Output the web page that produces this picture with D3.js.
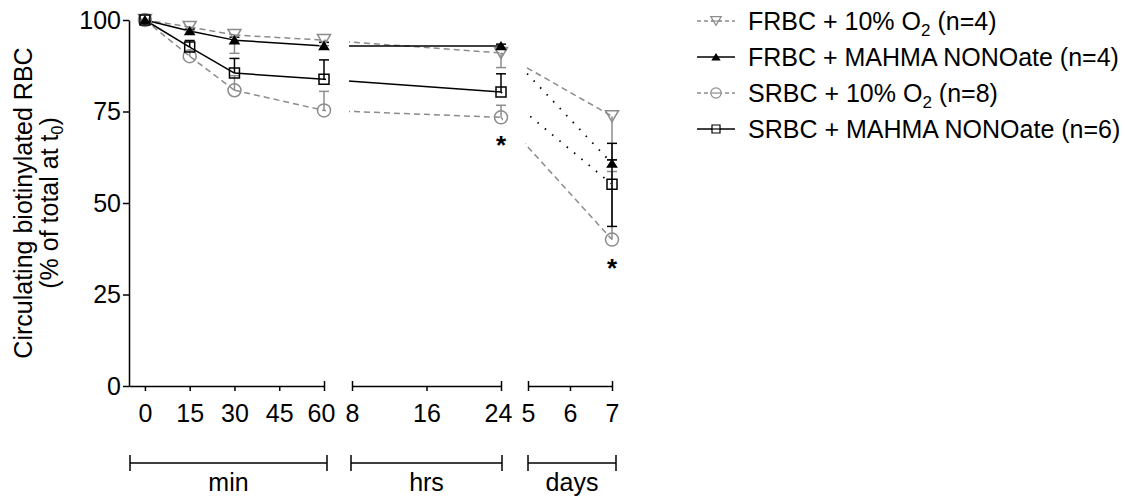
<!DOCTYPE html>
<html>
<head>
<meta charset="utf-8">
<script src="https://cdn.jsdelivr.net/npm/d3@7"></script>
<style>
  body { margin: 0; background: #fff; }
  svg { font-family: 'Liberation Sans', Arial, sans-serif; }
</style>
</head>
<body>
<svg id="chart" width="1125" height="500"></svg>
<script>
// axis ticks per broken segment
const minTicks = [0, 15, 30, 45, 60]
const hrsTicks = [8, 16, 24]
const dayTicks = [5, 6, 7]
const yTicks = [0, 25, 50, 75, 100]

// sampling times (unit + value)
const sampleUnits = ['min', 'min', 'min', 'min', 'hrs', 'days']
const sampleTimes = [0, 15, 30, 60, 24, 7]

// % of total at t0
const frbcO2 = [100, 98.1, 95.9, 94.5, 91.0, 73.7]
const frbcNO = [100, 97.0, 94.5, 92.9, 92.9, 60.8]
const srbcO2 = [100, 90.1, 80.8, 75.3, 73.4, 40.0]
const srbcNO = [100, 92.6, 85.5, 83.8, 80.3, 55.1]

// SEM, drawn one-sided like the original
const frbcO2ErrDown = [0, 1, 5, 1.5, 4, 12]
const frbcNOErrUp = [0, 0.5, 0.8, 1, 0.5, 1]
const srbcO2ErrUp = [0, 1.5, 4, 5.2, 3.3, 18.6]
const srbcNOErrUp = [0, 1.8, 4, 5.3, 5, 11.2]
const srbcNOErrDown = [0, 0, 0, 0, 0, 11.5]

const starAt = [4, 5]

const GRAY = '#8c8c8c'
const FONT = 25

const svg = d3.select('#chart')

const y = d3.scaleLinear().domain([0, 100]).range([386, 20])
const xMin = d3.scaleLinear().domain([-16 / 3, 60]).range([129, 324])
const xHrs = d3.scaleLinear().domain([8, 24]).range([352, 501])
const xDays = d3.scaleLinear().domain([5, 7]).range([528, 612])
const xByUnit = { min: xMin, hrs: xHrs, days: xDays }
const xAt = (i) => xByUnit[sampleUnits[i]](sampleTimes[i])

const triDown = (s) => `M${-s},${-s * 0.85}L${s},${-s * 0.85}L0,${s * 0.85}Z`
const triUp = (s) => `M${-s},${s * 0.8}L${s},${s * 0.8}L0,${-s * 0.8}Z`
const circle = (r) => d3.arc()({ innerRadius: 0, outerRadius: r, startAngle: 0, endAngle: 2 * Math.PI })
const square = (s) => `M${-s},${-s}H${s}V${s}H${-s}Z`

const series = [
  { name: 'FRBC + 10% O', sub: '2', tail: ' (n=4)', values: frbcO2, up: null, down: frbcO2ErrDown,
    color: GRAY, dash: '6,4', tailDash: '6,4', marker: triDown(6.5), fill: 'none' },
  { name: 'FRBC + MAHMA NONOate (n=4)', values: frbcNO, up: frbcNOErrUp, down: null,
    color: '#000', dash: null, tailDash: '1.5,8', marker: triUp(4.5), fill: '#000' },
  { name: 'SRBC + 10% O', sub: '2', tail: ' (n=8)', values: srbcO2, up: srbcO2ErrUp, down: null,
    color: GRAY, dash: '6,4', tailDash: '6,4', marker: circle(6.5), fill: 'none' },
  { name: 'SRBC + MAHMA NONOate (n=6)', values: srbcNO, up: srbcNOErrUp, down: srbcNOErrDown,
    color: '#000', dash: null, tailDash: '1.5,8', marker: square(5), fill: 'none' },
]

// clip lines to the three axis segments (gaps stay empty)
const clip = svg.append('clipPath').attr('id', 'segments')
;[[129, 326], [349, 503], [525, 640]].forEach(([a, b]) => {
  clip.append('rect').attr('x', a).attr('y', 0).attr('width', b - a).attr('height', 400)
})

// y axis
const yAxis = svg.append('g')
  .attr('transform', 'translate(129,0)')
  .call(d3.axisLeft(y).tickValues(yTicks).tickSize(6).tickSizeOuter(0))
yAxis.selectAll('path, line').attr('stroke', '#000').attr('stroke-width', 1.5)
yAxis.selectAll('text').attr('x', -8).attr('font-size', FONT).attr('font-family', null).attr('fill', '#000')

// broken x axis
const segments = [
  { scale: xMin, ticks: minTicks, ends: [60], label: 'min', span: [130, 327] },
  { scale: xHrs, ticks: hrsTicks, ends: [8, 24], label: 'hrs', span: [351, 502] },
  { scale: xDays, ticks: dayTicks, ends: [5, 7], label: 'days', span: [528, 616] },
]

segments.forEach((seg) => {
  const g = svg.append('g')
    .attr('transform', 'translate(0,386)')
    .call(d3.axisBottom(seg.scale).tickValues(seg.ticks).tickFormat(d3.format('d')).tickSize(5).tickSizeOuter(0))
  g.selectAll('path, line').attr('stroke', '#000').attr('stroke-width', 1.5)
  g.selectAll('.tick line').attr('y1', (d) => (seg.ends.includes(d) ? -5 : 0))
  g.selectAll('text')
    .attr('y', 18)
    .attr('x', (d) => (d === seg.ticks[seg.ticks.length - 1] && seg.label !== 'days' ? -3 : 0))
    .attr('font-size', FONT).attr('font-family', null).attr('fill', '#000')

  const b = svg.append('g').attr('stroke', '#000').attr('stroke-width', 1.5)
  b.append('line').attr('x1', seg.span[0]).attr('x2', seg.span[1]).attr('y1', 463).attr('y2', 463)
  seg.span.forEach((x) => {
    b.append('line').attr('x1', x).attr('x2', x).attr('y1', 455).attr('y2', 471)
  })
  svg.append('text')
    .attr('x', (seg.span[0] + seg.span[1]) / 2)
    .attr('y', 491)
    .attr('text-anchor', 'middle')
    .attr('font-size', FONT)
    .text(seg.label)
})

// y title
const title = svg.append('text')
  .attr('transform', 'translate(0,203) rotate(-90)')
  .attr('text-anchor', 'middle')
  .attr('font-size', FONT)
title.append('tspan').attr('x', 0).attr('y', 32).text('Circulating biotinylated RBC')
const t2 = title.append('tspan').attr('x', 0).attr('y', 58).text('(% of total at t')
t2.append('tspan').attr('font-size', 16).attr('dy', 5).text('0')
t2.append('tspan').attr('dy', -5).text(')')

// lines
const plot = svg.append('g')
const lineLayer = plot.append('g').attr('clip-path', 'url(#segments)')
series.forEach((s) => {
  const pts = s.values.map((v, i) => [xAt(i), y(v)])
  d3.pairs(pts).forEach(([p, q], i) => {
    const last = i === pts.length - 2
    lineLayer.append('line')
      .attr('x1', p[0]).attr('y1', p[1]).attr('x2', q[0]).attr('y2', q[1])
      .attr('stroke', s.color)
      .attr('stroke-width', last && s.color === '#000' ? 1.8 : 1.5)
      .attr('stroke-dasharray', last ? s.tailDash : s.dash)
  })
})

// error bars
const errLayer = plot.append('g')
const drawErr = (s, errs, dir) => {
  if (!errs) return
  errs.forEach((e, i) => {
    if (!e) return
    const x = xAt(i)
    const y0 = y(s.values[i])
    const y1 = y(s.values[i] + dir * e)
    errLayer.append('line').attr('x1', x).attr('x2', x).attr('y1', y0).attr('y2', y1)
      .attr('stroke', s.color).attr('stroke-width', 1.5)
    errLayer.append('line').attr('x1', x - 5).attr('x2', x + 5).attr('y1', y1).attr('y2', y1)
      .attr('stroke', s.color).attr('stroke-width', 1.5)
  })
}
series.forEach((s) => {
  drawErr(s, s.up, 1)
  drawErr(s, s.down, -1)
})

// markers
series.forEach((s) => {
  plot.append('g')
    .selectAll('path')
    .data(s.values)
    .join('path')
    .attr('transform', (v, i) => `translate(${xAt(i)},${y(v)})`)
    .attr('d', s.marker)
    .attr('fill', s.fill)
    .attr('stroke', s.color)
    .attr('stroke-width', 1.5)
})

// significance
svg.append('g')
  .selectAll('text')
  .data(starAt)
  .join('text')
  .attr('x', (i) => xAt(i))
  .attr('y', (i) => y(srbcO2[i]) + 37)
  .attr('text-anchor', 'middle')
  .attr('font-size', 26)
  .attr('font-weight', 'bold')
  .text('*')

// legend
const legend = svg.append('g')
series.forEach((s, i) => {
  const ly = 21 + i * 36
  const row = legend.append('g').attr('transform', `translate(0,${ly})`)
  row.append('line').attr('x1', 697).attr('x2', 735).attr('y1', 0).attr('y2', 0)
    .attr('stroke', s.color).attr('stroke-width', 1.5).attr('stroke-dasharray', s.dash ? '4,3' : null)
  row.append('path').attr('transform', 'translate(716,0) scale(0.8)').attr('d', s.marker)
    .attr('fill', s.fill === 'none' ? '#fff' : s.fill).attr('stroke', s.color).attr('stroke-width', 1.5)
  if (s.fill === 'none') {
    row.append('line').attr('x1', 711).attr('x2', 721).attr('y1', 0).attr('y2', 0)
      .attr('stroke', s.color).attr('stroke-width', 1.2)
  }
  const txt = row.append('text').attr('x', 748).attr('y', 9).attr('font-size', FONT).text(s.name)
  if (s.sub) {
    txt.append('tspan').attr('font-size', 17).attr('dy', 6).text(s.sub)
    txt.append('tspan').attr('dy', -6).text(s.tail)
  }
})
</script>
</body>
</html>
